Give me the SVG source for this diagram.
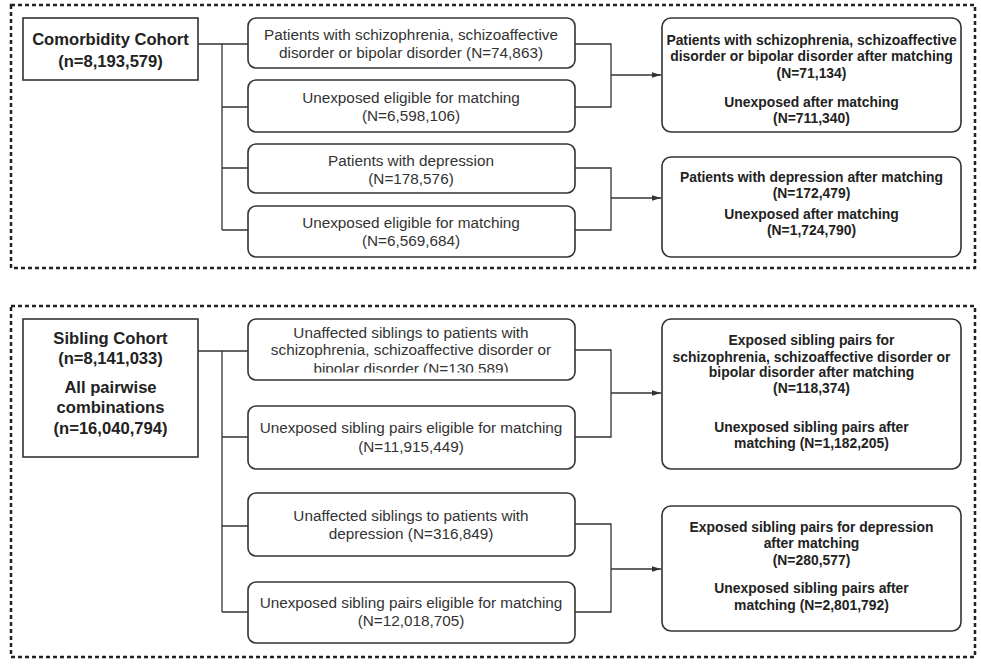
<svg xmlns="http://www.w3.org/2000/svg" width="981" height="665" viewBox="0 0 981 665">
<defs>
<style>
.frame{fill:none;stroke:#222;stroke-width:2.5;stroke-dasharray:4 3}
.sq{fill:#fff;stroke:#333;stroke-width:1.6}
.rb{fill:#fff;stroke:#333;stroke-width:1.6}
.ln{fill:none;stroke:#333;stroke-width:1.3}
.t{font-family:"Liberation Sans",Arial,sans-serif;font-size:15.3px;fill:#333;text-anchor:middle;dominant-baseline:central}
.b{font-family:"Liberation Sans",Arial,sans-serif;font-size:13.9px;font-weight:bold;fill:#222;text-anchor:middle;dominant-baseline:central}
.h{font-family:"Liberation Sans",Arial,sans-serif;font-size:16.6px;font-weight:bold;fill:#222;text-anchor:middle;dominant-baseline:central}
</style>
<marker id="arr" markerWidth="10" markerHeight="8" refX="9" refY="4" orient="auto" markerUnits="userSpaceOnUse">
<path d="M0,1.2 L9,4 L0,6.8 Z" fill="#333"/>
</marker>
<clipPath id="clipS1"><rect x="248" y="319" width="327" height="53.5"/></clipPath>
</defs>
<rect width="981" height="665" fill="#fff"/>
<rect class="frame" x="11" y="5" width="964" height="263"/>
<rect class="frame" x="11" y="306" width="964" height="351"/>

<g id="connectors">
<path class="ln" d="M198,44 H222 M222,44 V230 M222,44 H248 M222,107 H248 M222,168 H248 M222,230 H248"/>
<path class="ln" d="M575,44 H611 V107 H575 M575,168 H611 V230 H575"/>
<path class="ln" d="M611,75 H661" marker-end="url(#arr)"/>
<path class="ln" d="M611,198 H661" marker-end="url(#arr)"/>
<path class="ln" d="M198,351 H222 M222,351 V612 M222,351 H248 M222,437 H248 M222,526 H248 M222,612 H248"/>
<path class="ln" d="M575,350 H611 V437 H575 M575,524 H611 V612 H575"/>
<path class="ln" d="M611,393 H661" marker-end="url(#arr)"/>
<path class="ln" d="M611,569 H661" marker-end="url(#arr)"/>
</g>

<g id="comorbidity">
<rect class="sq" x="23" y="18" width="175" height="62"/>
<text class="h" x="110.5" y="39">Comorbidity Cohort</text>
<text class="h" x="110.5" y="61">(n=8,193,579)</text>
</g>
<g id="c_schiz">
<rect class="rb" x="248" y="18" width="327" height="50" rx="8"/>
<text class="t" x="411" y="34">Patients with schizophrenia, schizoaffective</text>
<text class="t" x="411" y="52">disorder or bipolar disorder  (N=74,863)</text>
</g>
<g id="c_unexp1">
<rect class="rb" x="248" y="80" width="327" height="52" rx="8"/>
<text class="t" x="411" y="97">Unexposed eligible for matching</text>
<text class="t" x="411" y="115">(N=6,598,106)</text>
</g>
<g id="c_dep">
<rect class="rb" x="248" y="144" width="327" height="49" rx="8"/>
<text class="t" x="411" y="160">Patients with depression</text>
<text class="t" x="411" y="178">(N=178,576)</text>
</g>
<g id="c_unexp2">
<rect class="rb" x="248" y="206" width="327" height="51" rx="8"/>
<text class="t" x="411" y="222">Unexposed eligible for matching</text>
<text class="t" x="411" y="240">(N=6,569,684)</text>
</g>
<g id="c_res1">
<rect class="rb" x="662" y="18" width="299" height="114" rx="9"/>
<text class="b" x="811.5" y="40">Patients with schizophrenia, schizoaffective</text>
<text class="b" x="811.5" y="56">disorder or bipolar disorder after matching</text>
<text class="b" x="811.5" y="73">(N=71,134)</text>
<text class="b" x="811.5" y="102">Unexposed after matching</text>
<text class="b" x="811.5" y="118">(N=711,340)</text>
</g>
<g id="c_res2">
<rect class="rb" x="662" y="157" width="299" height="100" rx="9"/>
<text class="b" x="811.5" y="177">Patients with depression after matching</text>
<text class="b" x="811.5" y="193">(N=172,479)</text>
<text class="b" x="811.5" y="214">Unexposed after matching</text>
<text class="b" x="811.5" y="230">(N=1,724,790)</text>
</g>

<g id="sibling">
<rect class="sq" x="23" y="319" width="175" height="138"/>
<text class="h" x="110.5" y="338">Sibling Cohort</text>
<text class="h" x="110.5" y="358">(n=8,141,033)</text>
<text class="h" x="110.5" y="387">All pairwise</text>
<text class="h" x="110.5" y="407">combinations</text>
<text class="h" x="110.5" y="428">(n=16,040,794)</text>
</g>
<g id="s_schiz">
<rect class="rb" x="248" y="319" width="327" height="61" rx="8"/>
<g clip-path="url(#clipS1)">
<text class="t" x="411" y="332">Unaffected siblings to patients with</text>
<text class="t" x="411" y="349">schizophrenia, schizoaffective disorder or</text>
<text class="t" x="411" y="368">bipolar disorder (N=130,589)</text>
</g>
</g>
<g id="s_unexp1">
<rect class="rb" x="248" y="406" width="327" height="63" rx="8"/>
<text class="t" x="411" y="427">Unexposed sibling pairs eligible for matching</text>
<text class="t" x="411" y="446">(N=11,915,449)</text>
</g>
<g id="s_dep">
<rect class="rb" x="248" y="493" width="327" height="63" rx="8"/>
<text class="t" x="411" y="515">Unaffected siblings to patients with</text>
<text class="t" x="411" y="533">depression (N=316,849)</text>
</g>
<g id="s_unexp2">
<rect class="rb" x="248" y="582" width="327" height="61" rx="8"/>
<text class="t" x="411" y="602">Unexposed sibling pairs eligible for matching</text>
<text class="t" x="411" y="620">(N=12,018,705)</text>
</g>
<g id="s_res1">
<rect class="rb" x="662" y="319" width="299" height="150" rx="9"/>
<text class="b" x="811.5" y="340">Exposed sibling pairs for</text>
<text class="b" x="811.5" y="357">schizophrenia, schizoaffective disorder or</text>
<text class="b" x="811.5" y="372">bipolar disorder after matching</text>
<text class="b" x="811.5" y="388">(N=118,374)</text>
<text class="b" x="811.5" y="427">Unexposed sibling pairs after</text>
<text class="b" x="811.5" y="443">matching (N=1,182,205)</text>
</g>
<g id="s_res2">
<rect class="rb" x="662" y="506" width="299" height="125" rx="9"/>
<text class="b" x="811.5" y="527">Exposed sibling pairs for depression</text>
<text class="b" x="811.5" y="543">after matching</text>
<text class="b" x="811.5" y="560">(N=280,577)</text>
<text class="b" x="811.5" y="588">Unexposed sibling pairs after</text>
<text class="b" x="811.5" y="605">matching (N=2,801,792)</text>
</g>
</svg>
